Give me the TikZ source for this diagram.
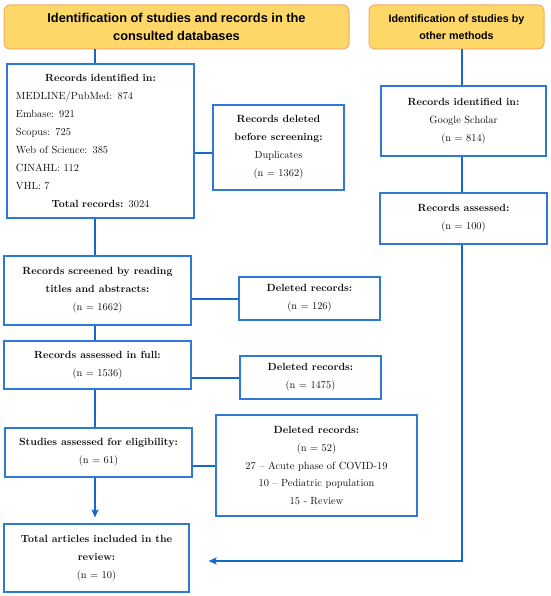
\documentclass[tikz,border=0pt]{standalone}
\usepackage{fontspec}
\newfontfamily\hdrfont{Liberation Sans}
\usetikzlibrary{arrows.meta,calc}
\definecolor{bbox}{RGB}{46,120,214}
\definecolor{bline}{RGB}{22,104,200}
\definecolor{hfill}{RGB}{253,215,104}
\definecolor{hdraw}{RGB}{247,170,100}
\definecolor{txt}{RGB}{15,15,15}
\newcommand{\bodyf}{\fontsize{10.4}{17.9}\selectfont}
\begin{document}
\begin{tikzpicture}[x=1pt,y=-1pt,
  box/.style={draw=bbox, line width=1.1pt, fill=white, inner sep=0pt, align=center, text=txt, font=\bodyf},
  hbox/.style={draw=hdraw, line width=1pt, fill=hfill, rounded corners=6pt, inner sep=0pt, align=center, text=black},
  conn/.style={draw=bline, line width=2pt},
  arr/.style={conn, -{Stealth[length=8pt,width=7pt,inset=1.5pt]}}
]
\useasboundingbox (0,0) rectangle (550,596);
% headers
\node[hbox, minimum width=345pt, minimum height=44pt, font=\fontsize{12.8}{17.5}\selectfont\hdrfont\bfseries] (h1) at (176.5,27) {Identification of studies and records in the\\consulted databases};
\node[hbox, minimum width=175pt, minimum height=44pt, font=\fontsize{10.7}{17}\selectfont\hdrfont\bfseries] (h2) at (456.5,27) {Identification of studies by\\other methods};
% left column
\node[box, minimum width=187pt, minimum height=154pt, text width=169pt, align=left] (rec) at (100.5,141)
 {\makebox[\linewidth]{\textbf{Records identified in:}}\\
  MEDLINE/PubMed: 874\\ Embase: 921\\ Scopus: 725\\ Web of Science: 385\\ CINAHL: 112\\ VHL: 7\\
  \makebox[\linewidth]{\textbf{Total records:} 3024}};
\node[box, minimum width=131pt, minimum height=85pt] (del1) at (278.5,147.5)
 {\textbf{Records deleted}\\ \textbf{before screening:}\\ Duplicates\\ (n = 1362)};
\node[box, minimum width=187pt, minimum height=69pt] (scr) at (97.5,290.5)
 {\textbf{Records screened by reading}\\ \textbf{titles and abstracts:}\\ (n = 1662)};
\node[box, minimum width=141pt, minimum height=43pt] (del2) at (309.5,298.5)
 {\textbf{Deleted records:}\\ (n = 126)};
\node[box, minimum width=187pt, minimum height=48pt] (full) at (97.5,365)
 {\textbf{Records assessed in full:}\\ (n = 1536)};
\node[box, minimum width=141pt, minimum height=43pt] (del3) at (310.5,377.5)
 {\textbf{Deleted records:}\\ (n = 1475)};
\node[box, minimum width=187pt, minimum height=49pt] (elig) at (98.5,452.5)
 {\textbf{Studies assessed for eligibility:}\\ (n = 61)};
\node[box, minimum width=201pt, minimum height=101pt] (del4) at (316.5,465.5)
 {\textbf{Deleted records:}\\ (n = 52)\\ 27 -- Acute phase of COVID-19\\ 10 -- Pediatric population\\ 15 - Review};
\node[box, minimum width=185pt, minimum height=68pt] (tot) at (96.5,558)
 {\textbf{Total articles included in the}\\ \textbf{review:}\\ (n = 10)};
% right column
\node[box, minimum width=165pt, minimum height=70pt] (gs) at (463.5,121)
 {\textbf{Records identified in:}\\ Google Scholar\\ (n = 814)};
\node[box, minimum width=167pt, minimum height=51pt] (ra) at (463.5,218.5)
 {\textbf{Records assessed:}\\ (n = 100)};
% coordinates
\coordinate (lx) at (95,0);
\coordinate (rx) at (462,0);
\coordinate (j1) at ($(del1.west)+(0,5.5)$);
\coordinate (ltip) at ($(tot.north -| lx)+(0,-6)$);
\coordinate (rtip) at ($(tot.east)+(19,3)$);
% left connectors
\draw[conn] (h1.south -| lx) -- (rec.north -| lx);
\draw[conn] (rec.south -| lx) -- (scr.north -| lx);
\draw[conn] (scr.south -| lx) -- (full.north -| lx);
\draw[conn] (full.south -| lx) -- (elig.north -| lx);
\draw[arr] (elig.south -| lx) -- (ltip);
\draw[conn] (j1) -- (j1 -| rec.east);
\draw[conn] (del2.west) -- (del2.west -| scr.east);
\draw[conn] (del3.west) -- (del3.west -| full.east);
\draw[conn] (del4.west) -- (del4.west -| elig.east);
% right connectors
\draw[conn] (h2.south -| rx) -- (gs.north -| rx);
\draw[conn] (gs.south -| rx) -- (ra.north -| rx);
\draw[arr] (ra.south -| rx) |- (rtip);
\end{tikzpicture}
\end{document}
